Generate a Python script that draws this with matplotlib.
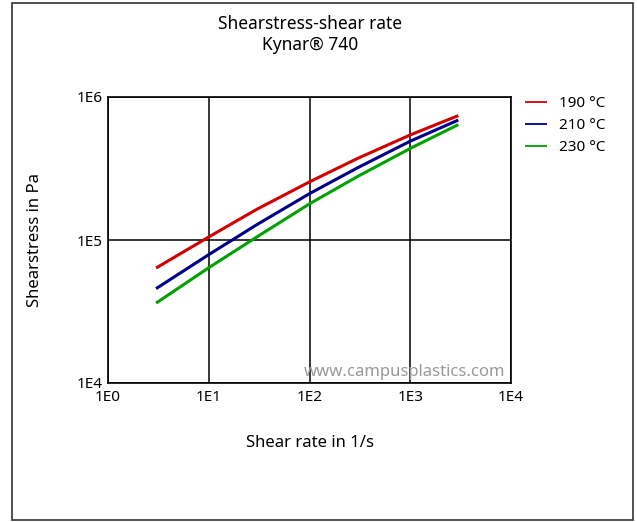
import matplotlib
matplotlib.use("Agg")
import matplotlib.pyplot as plt
from matplotlib.patches import Rectangle
from matplotlib.ticker import FixedLocator, NullLocator

plt.rcParams["font.family"] = ["Noto Sans", "DejaVu Sans"]

# shear rate in 1/s
SHEAR_RATE = [3, 10, 30, 100, 300, 1000, 3000]
# shear stress in Pa per melt temperature
STRESS_190 = [63700, 105000, 164000, 255000, 372000, 543000, 741000]
STRESS_210 = [45700, 79000, 128000, 211000, 320000, 491000, 690000]
STRESS_230 = [36200, 64000, 105000, 179000, 278000, 437000, 641000]
LABELS = ["190 °C", "210 °C", "230 °C"]
COLORS = ["#d00000", "#000088", "#00a000"]

X_TICKS = [1, 10, 100, 1000, 10000]
X_TICK_LABELS = ["1E0", "1E1", "1E2", "1E3", "1E4"]
Y_TICKS = [1e4, 1e5, 1e6]
Y_TICK_LABELS = ["1E4", "1E5", "1E6"]

W, H = 637, 522
fig = plt.figure(figsize=(W / 100, H / 100), dpi=100)
ax = fig.add_axes([108 / W, 1 - 383 / H, 403 / W, 286 / H])

for ys, lab, col in zip([STRESS_190, STRESS_210, STRESS_230], LABELS, COLORS):
    ax.plot(SHEAR_RATE, ys, color=col, lw=2.2, label=lab, solid_capstyle="butt")

ax.set_xscale("log")
ax.set_yscale("log")
ax.set_xlim(1, 1e4)
ax.set_ylim(1e4, 1e6)
ax.xaxis.set_major_locator(FixedLocator(X_TICKS))
ax.yaxis.set_major_locator(FixedLocator(Y_TICKS))
ax.xaxis.set_minor_locator(NullLocator())
ax.yaxis.set_minor_locator(NullLocator())
ax.set_xticklabels(X_TICK_LABELS)
ax.set_yticklabels(Y_TICK_LABELS)
ax.tick_params(length=0, labelsize=11)
ax.tick_params(axis="x", pad=5)
ax.tick_params(axis="y", pad=4)
ax.grid(True, color="black", lw=1.1)
ax.set_axisbelow(True)
for sp in ax.spines.values():
    sp.set_linewidth(1.2)

ax.set_xlabel("Shear rate in 1/s", fontsize=12, va="center")
ax.xaxis.set_label_coords(0.5, (383 - 443) / 286)
ax.set_ylabel("Shearstress in Pa", fontsize=12, va="center")
ax.yaxis.set_label_coords((35 - 108) / 403, 0.5)

fig.text(310 / W, 1 - 24 / H, "Shearstress-shear rate", ha="center", va="center", fontsize=12.5)
fig.text(310 / W, 1 - 45 / H, "Kynar® 740", ha="center", va="center", fontsize=12.5)

ax.text(0.985, 0.04, "www.campusplastics.com", transform=ax.transAxes,
        ha="right", va="center", fontsize=12, color="#999999")

leg = ax.legend(loc="upper left", bbox_to_anchor=(1.0, 1.05), frameon=False,
                fontsize=11, handlelength=1.45, handletextpad=0.8, labelspacing=0.45)
for h in leg.legend_handles:
    h.set_linewidth(1.3)

fig.patches.append(Rectangle((12 / W, 1 - 520 / H), 621 / W, 517 / H,
                             transform=fig.transFigure, fill=False,
                             edgecolor="#333333", lw=1.2))

fig.savefig("out.png", dpi=100)
